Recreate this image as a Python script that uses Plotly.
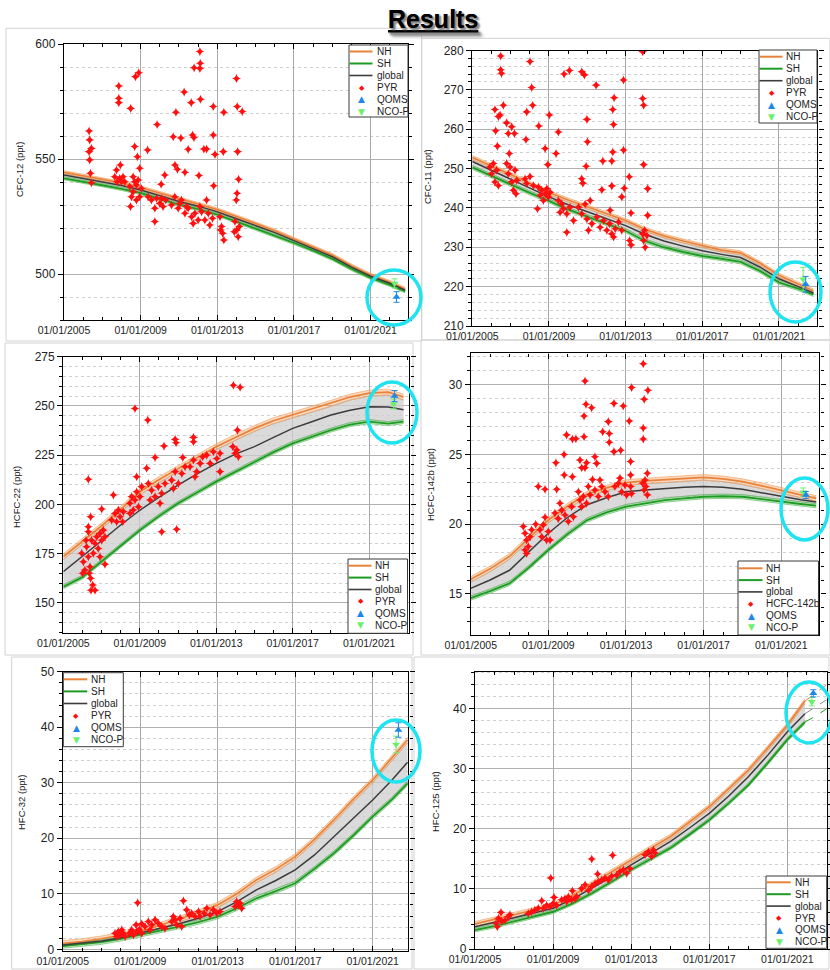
import plotly.graph_objects as go
import numpy as np

W, H = 830, 970
FONT = "Arial, 'Liberation Sans', sans-serif"


def X(px):
    return px / W


def Y(py):
    return 1 - py / H


# ---------------- data ----------------
YEARS = [2005, 2006, 2007, 2008, 2009, 2010, 2011, 2012, 2013, 2014, 2015,
         2016, 2017, 2018, 2019, 2020, 2021, 2022, 2022.8]
TICK_YEARS = [2005, 2009, 2013, 2017, 2021]
TICK_TEXT = ["01/01/2005", "01/01/2009", "01/01/2013", "01/01/2017", "01/01/2021"]

CFC12_NH = [544.2, 542.6, 541.2, 539.6, 537.6, 535.2, 532.6, 530.5, 528.0, 525.0,
            522.0, 518.8, 515.2, 511.6, 508.2, 503.6, 499.6, 496.5, 493.5]
CFC12_GL = [543.0, 541.5, 540.0, 538.5, 536.5, 534.0, 531.5, 529.5, 527.0, 524.0,
            521.0, 518.0, 514.5, 511.0, 507.5, 503.0, 499.0, 496.0, 493.0]
CFC12_SH = [541.6, 540.2, 538.6, 537.0, 535.2, 532.6, 530.2, 528.2, 525.8, 522.8,
            519.8, 516.8, 513.5, 510.2, 506.6, 502.2, 498.3, 495.3, 492.5]

CFC11_NH = [252.8, 250.7, 248.5, 246.2, 243.9, 242.0, 240.2, 238.5, 236.8, 234.6,
            232.9, 231.6, 230.4, 229.3, 228.6, 226.0, 222.9, 220.6, 218.9]
CFC11_GL = [251.8, 249.5, 247.3, 245.0, 242.8, 240.8, 239.0, 237.2, 235.5, 233.3,
            231.6, 230.3, 229.1, 228.2, 227.4, 225.0, 222.0, 220.0, 218.4]
CFC11_SH = [250.3, 248.1, 246.0, 243.8, 241.8, 239.6, 237.8, 236.0, 234.2, 231.6,
            230.0, 228.8, 227.8, 227.1, 226.3, 224.0, 221.1, 219.5, 218.0]

HCFC22_NH = [173.4, 181.0, 189.0, 197.5, 206.4, 212.5, 218.2, 224.0, 229.3, 234.0,
             238.6, 242.5, 245.4, 248.5, 251.3, 254.5, 256.5, 257.0, 254.5]
HCFC22_GL = [165.8, 173.5, 181.5, 189.5, 197.0, 203.5, 209.8, 215.5, 220.8, 225.5,
             229.3, 234.0, 238.6, 242.0, 245.4, 247.8, 249.6, 249.5, 248.0]
HCFC22_SH = [158.1, 163.0, 171.0, 179.0, 186.9, 194.0, 200.5, 206.0, 211.5, 216.5,
             221.6, 226.5, 231.0, 234.5, 237.7, 240.5, 242.0, 241.0, 242.0]

HCFC142B_NH = [16.05, 16.8, 17.7, 19.0, 20.3, 21.3, 22.17, 22.6, 22.98, 23.1,
               23.2, 23.25, 23.36, 23.25, 23.05, 22.75, 22.45, 22.1, 21.85]
HCFC142B_GL = [15.4, 16.0, 16.7, 18.0, 19.35, 20.5, 21.4, 21.9, 22.33, 22.45,
               22.57, 22.65, 22.7, 22.65, 22.5, 22.25, 21.97, 21.75, 21.6]
HCFC142B_SH = [14.7, 15.2, 15.76, 16.9, 18.15, 19.3, 20.3, 20.85, 21.26, 21.5,
               21.73, 21.85, 21.97, 22.0, 21.97, 21.8, 21.6, 21.45, 21.33]

HFC32_NH = [1.08, 1.4, 1.9, 2.5, 3.2, 4.3, 5.4, 6.6, 8.0, 10.0,
            12.5, 14.4, 16.7, 19.8, 23.3, 27.0, 30.5, 34.5, 37.7]
HFC32_GL = [0.78, 1.1, 1.5, 2.1, 2.9, 3.7, 4.6, 5.6, 6.8, 8.6,
            10.7, 12.4, 14.3, 17.0, 20.3, 23.5, 26.9, 30.5, 33.7]
HFC32_SH = [0.6, 0.9, 1.3, 1.9, 2.6, 3.3, 4.1, 4.9, 5.9, 7.4,
            9.2, 10.5, 11.9, 14.5, 17.3, 20.5, 23.9, 27.0, 29.9]

YEARS_125 = [2005, 2006, 2007, 2008, 2009, 2010, 2011, 2012, 2013, 2014, 2015,
             2016, 2017, 2018, 2019, 2020, 2021, 2021.9]
HFC125_NH = [4.17, 4.9, 5.7, 6.5, 7.3, 8.9, 10.9, 12.9, 14.9, 16.8, 18.7,
             21.2, 23.7, 26.7, 29.8, 33.5, 37.3, 41.3]
HFC125_GL = [3.72, 4.4, 5.2, 6.0, 6.8, 8.3, 10.1, 12.0, 14.0, 15.9, 17.9,
             20.2, 22.6, 25.5, 28.7, 32.3, 36.2, 39.2]
HFC125_SH = [3.17, 3.8, 4.6, 5.4, 6.2, 7.6, 9.3, 11.2, 13.2, 15.0, 16.8,
             19.1, 21.5, 24.3, 27.3, 31.0, 34.9, 37.8]
YEARS_125_EXT = [2021.9, 2022.5, 2023.0]
HFC125_NH_EXT = [41.3, 42.8, 44.0]
HFC125_GL_EXT = [39.2, 40.4, 41.5]
HFC125_SH_EXT = [37.8, 38.9, 40.0]

# PYR in-situ points (year, ppt)
CFC12_PYR = [
    (2006.31, 562.2), (2006.34, 558.3), (2006.43, 554.6), (2006.31, 553.2), (2006.34, 549.6),
    (2006.38, 543.8), (2006.43, 539.7), (2007.86, 581.7), (2007.86, 576.4), (2007.86, 574.5),
    (2008.48, 572.0), (2008.69, 555.4), (2008.73, 585.8), (2008.90, 587.5), (2008.83, 551.0),
    (2009.36, 553.9), (2009.86, 565.0), (2010.07, 539.0), (2010.26, 543.0), (2010.70, 559.7),
    (2010.84, 570.3), (2010.79, 547.4), (2010.92, 545.5), (2011.10, 559.1), (2011.31, 544.2),
    (2011.27, 579.1), (2011.48, 554.2), (2011.64, 574.5), (2011.71, 560.4), (2011.78, 559.3),
    (2011.79, 589.7), (2012.09, 596.7), (2012.11, 591.6), (2012.09, 589.4), (2012.12, 576.0),
    (2012.04, 542.8), (2012.30, 554.3), (2012.44, 554.3), (2012.79, 572.8), (2012.79, 560.4),
    (2012.88, 552.0), (2012.81, 538.4), (2013.34, 570.3), (2013.31, 553.2), (2014.00, 585.0),
    (2014.04, 572.8), (2014.06, 553.2), (2014.11, 541.2), (2014.30, 570.6), (2014.03, 535.1),
    (2013.99, 532.2),
    (2007.65, 542.3), (2007.77, 540.1), (2007.91, 541.6), (2008.00, 540.1), (2008.08, 542.3),
    (2008.17, 540.1), (2007.74, 545.2), (2007.94, 547.4),
    (2008.43, 538.0), (2008.52, 533.6), (2008.61, 535.8), (2008.69, 540.1), (2008.78, 538.7),
    (2008.87, 540.9), (2008.95, 533.6), (2009.04, 537.2), (2008.61, 542.3), (2008.47, 529.3),
    (2008.78, 532.2), (2008.95, 546.0),
    (2009.39, 533.6), (2009.56, 532.2), (2009.74, 528.6), (2009.83, 532.9), (2010.00, 530.7),
    (2010.17, 529.3), (2010.31, 532.2), (2009.74, 522.8), (2010.09, 532.9),
    (2010.61, 530.0), (2010.78, 533.6), (2010.96, 528.6), (2011.13, 532.2), (2011.31, 526.4),
    (2011.39, 529.3), (2011.05, 530.7),
    (2011.48, 528.6), (2011.66, 524.9), (2011.83, 526.4), (2012.00, 523.5), (2012.09, 529.3),
    (2011.74, 522.0),
    (2012.18, 527.1), (2012.35, 523.5), (2012.53, 526.4), (2012.61, 521.3), (2012.75, 524.2),
    (2012.44, 532.2),
    (2013.14, 524.9), (2013.22, 520.6), (2013.28, 517.7), (2013.34, 514.8), (2013.17, 519.1),
    (2013.92, 522.8), (2014.01, 519.1), (2014.09, 516.2), (2013.89, 518.4), (2014.15, 520.6),
]

CFC11_PYR = [
    (2006.48, 278.6), (2006.48, 275.1), (2006.52, 274.2), (2006.18, 265.0), (2006.62, 266.1),
    (2006.36, 263.2), (2006.45, 263.6), (2006.22, 259.6), (2006.79, 261.6), (2006.88, 258.9),
    (2007.06, 260.6), (2007.20, 258.9), (2006.31, 255.7), (2008.01, 277.2), (2008.10, 270.6),
    (2008.15, 266.1), (2007.84, 264.4), (2007.80, 257.4), (2008.47, 260.8), (2008.80, 255.1),
    (2009.02, 263.6), (2008.94, 251.0), (2009.49, 259.3), (2009.37, 253.8), (2009.79, 274.0),
    (2010.07, 274.9), (2010.71, 274.6), (2010.85, 273.8), (2010.98, 262.5), (2011.01, 256.8),
    (2010.94, 250.6), (2010.71, 247.4), (2010.77, 246.3), (2011.46, 271.2), (2011.81, 251.9),
    (2011.76, 244.6), (2012.33, 265.0), (2012.40, 268.0), (2012.37, 261.2), (2012.33, 254.2),
    (2012.28, 251.9), (2012.28, 245.6), (2012.89, 272.5), (2012.89, 254.7), (2012.93, 245.0),
    (2013.19, 247.9), (2013.89, 279.7), (2013.89, 267.8), (2013.94, 266.1), (2013.94, 251.0),
    (2014.15, 244.9), (2014.15, 238.1), (2012.80, 242.8), (2012.19, 239.4), (2013.28, 238.7),
    (2005.92, 250.4), (2006.01, 248.7), (2006.18, 246.6), (2006.27, 249.6), (2006.36, 245.7),
    (2006.10, 251.3),
    (2006.79, 251.3), (2006.88, 248.7), (2006.97, 250.4), (2007.06, 246.6), (2007.14, 244.5),
    (2007.23, 249.6), (2006.93, 253.8), (2007.28, 243.6), (2007.32, 247.0),
    (2007.75, 247.4), (2007.84, 246.2), (2008.01, 248.0), (2008.19, 245.7),
    (2008.45, 245.3), (2008.54, 243.2), (2008.62, 244.5), (2008.71, 241.9), (2008.80, 243.6),
    (2008.89, 244.9), (2008.40, 239.8), (2008.97, 242.8), (2009.06, 244.0),
    (2009.49, 241.9), (2009.67, 241.0), (2009.76, 239.8), (2009.93, 238.5), (2010.10, 240.2),
    (2009.93, 233.8), (2010.28, 236.8), (2009.58, 238.9),
    (2010.54, 240.2), (2010.71, 238.5), (2010.89, 241.0), (2010.98, 237.2), (2011.15, 241.9),
    (2011.24, 236.0), (2011.06, 234.3),
    (2011.50, 237.7), (2011.67, 235.1), (2011.85, 236.8), (2012.02, 234.3), (2012.16, 236.0),
    (2012.28, 233.4), (2012.46, 234.7), (2012.63, 236.4), (2012.80, 234.3), (2012.37, 232.6),
    (2013.21, 231.7), (2013.28, 230.6),
    (2013.89, 233.4), (2013.94, 231.7), (2014.02, 230.0), (2014.11, 233.0), (2013.99, 234.3),
]

HCFC22_PYR = [
    (2006.31, 212.7), (2006.31, 188.6), (2006.31, 186.1), (2006.43, 193.7), (2007.01, 197.6),
    (2006.36, 165.0), (2006.43, 162.4), (2006.45, 156.4), (2006.66, 156.4), (2006.54, 159.0),
    (2007.18, 169.6), (2008.75, 248.7), (2009.42, 242.8), (2010.15, 186.1), (2010.93, 187.3),
    (2010.27, 229.6), (2010.85, 233.0), (2010.90, 231.3), (2011.81, 234.0), (2011.81, 231.8),
    (2011.25, 223.8), (2009.80, 223.8), (2009.36, 218.3), (2013.90, 260.5), (2014.25, 259.5),
    (2014.11, 237.7),
    (2005.96, 175.1), (2006.05, 170.8), (2006.13, 166.6), (2006.22, 178.5), (2006.31, 173.4),
    (2006.40, 168.3), (2006.48, 181.8), (2006.01, 165.0), (2006.19, 181.8), (2006.57, 175.1),
    (2006.66, 180.1), (2006.75, 183.5), (2006.83, 177.6), (2006.92, 185.2), (2007.01, 181.8),
    (2007.09, 186.9), (2007.18, 183.5), (2006.92, 173.4),
    (2007.53, 192.0), (2007.71, 195.4), (2007.79, 191.2), (2007.88, 197.1), (2007.97, 193.7),
    (2008.14, 196.2), (2007.62, 204.7), (2008.11, 191.2),
    (2008.49, 200.5), (2008.58, 203.9), (2008.66, 197.1), (2008.75, 202.2), (2008.84, 206.4),
    (2008.93, 198.8), (2009.01, 203.9), (2008.84, 214.0), (2008.49, 195.4), (2009.10, 209.0),
    (2009.45, 210.6), (2009.62, 207.2), (2009.80, 203.9), (2009.97, 209.0), (2010.15, 205.6),
    (2010.32, 210.6), (2009.54, 202.2), (2010.06, 200.5),
    (2010.67, 212.3), (2010.85, 216.6), (2011.02, 210.6), (2011.20, 215.7), (2011.37, 219.1),
    (2010.76, 208.1),
    (2011.63, 219.1), (2011.81, 222.5), (2011.98, 216.6), (2012.16, 220.8), (2012.29, 224.2),
    (2011.89, 214.0),
    (2012.50, 225.0), (2012.68, 220.8), (2012.85, 226.7), (2013.03, 223.3), (2013.20, 225.9),
    (2013.20, 216.6),
    (2013.87, 229.3), (2013.99, 225.9), (2014.08, 227.6), (2014.16, 224.2),
]

HCFC142B_PYR = [
    (2010.89, 30.26), (2010.94, 28.6), (2011.23, 28.35), (2010.84, 27.75), (2010.84, 26.27),
    (2010.42, 26.13), (2009.94, 26.4), (2010.24, 26.1), (2009.81, 25.0), (2009.39, 24.4),
    (2009.82, 23.53), (2010.24, 23.4), (2010.63, 24.6), (2010.89, 24.05), (2010.72, 24.05),
    (2010.97, 24.4), (2011.40, 24.84), (2011.49, 24.36), (2011.28, 23.2), (2011.80, 26.63),
    (2012.09, 27.35), (2012.14, 26.5), (2012.14, 25.87), (2012.38, 28.66), (2012.38, 25.2),
    (2012.73, 25.3), (2012.86, 28.47), (2013.17, 27.4), (2013.29, 29.8), (2013.24, 24.5),
    (2013.24, 23.53), (2013.89, 31.5), (2013.89, 26.9), (2013.89, 26.1), (2013.94, 28.95),
    (2014.13, 29.6), (2014.10, 23.65), (2008.48, 22.7), (2008.83, 22.5), (2009.43, 22.5),
    (2008.35, 20.0),
    (2007.80, 19.35), (2007.88, 18.87), (2007.97, 18.4), (2007.80, 18.15), (2008.06, 19.1),
    (2008.14, 19.6), (2007.71, 19.83), (2007.88, 17.9),
    (2008.57, 19.6), (2008.66, 19.1), (2008.74, 19.95), (2008.91, 18.87), (2009.00, 19.47),
    (2008.83, 20.5), (2009.09, 18.87),
    (2009.34, 20.8), (2009.51, 20.4), (2009.69, 21.0), (2009.86, 20.66), (2010.03, 20.2),
    (2010.20, 21.26), (2010.29, 20.54), (2009.60, 21.5),
    (2010.55, 22.33), (2010.63, 21.74), (2010.80, 21.98), (2010.97, 21.5), (2011.06, 22.7),
    (2011.15, 22.1), (2010.72, 21.26),
    (2011.40, 22.45), (2011.58, 21.98), (2011.75, 22.7), (2011.92, 22.33), (2012.09, 21.98),
    (2011.66, 23.17),
    (2012.43, 22.7), (2012.61, 22.93), (2012.78, 22.33), (2012.95, 22.81), (2013.03, 22.1),
    (2012.69, 23.3),
    (2013.24, 22.7), (2013.29, 22.2),
    (2013.86, 22.93), (2013.93, 22.45), (2014.03, 22.7), (2014.10, 22.1), (2013.98, 23.17),
]

HFC32_PYR = [
    (2008.87, 8.4), (2011.23, 8.76), (2008.79, 4.4), (2009.08, 4.6),
    (2007.70, 2.88), (2007.79, 2.28), (2007.87, 3.2), (2007.96, 2.6), (2008.13, 2.9),
    (2008.22, 2.3), (2008.05, 3.5),
    (2008.44, 2.9), (2008.56, 3.5), (2008.65, 2.6), (2008.82, 3.2), (2008.96, 3.6), (2009.08, 2.9),
    (2009.25, 4.1), (2009.42, 5.0), (2009.60, 4.4), (2009.77, 5.3), (2009.94, 4.7),
    (2010.11, 4.1), (2010.28, 3.8), (2009.51, 3.5),
    (2010.63, 5.0), (2010.71, 5.9), (2010.89, 4.4), (2011.06, 5.6), (2011.14, 4.1), (2010.80, 5.3),
    (2011.40, 7.1), (2011.54, 6.2), (2011.66, 6.5), (2011.83, 5.9), (2012.01, 6.8), (2012.09, 5.9),
    (2012.30, 6.5), (2012.44, 7.4), (2012.61, 6.2), (2012.78, 7.1), (2012.95, 6.5), (2013.12, 6.8),
    (2013.90, 7.7), (2013.98, 8.6), (2014.07, 8.0), (2014.16, 8.3), (2014.24, 7.4),
]

HFC125_PYR = [
    (2008.88, 11.83), (2010.98, 15.0), (2012.05, 15.6), (2011.28, 12.5), (2008.42, 8.05),
    (2006.33, 6.1), (2009.05, 8.6), (2009.99, 9.7),
    (2006.08, 4.3), (2006.20, 5.1), (2006.37, 4.6), (2006.54, 4.8), (2006.71, 5.4),
    (2006.14, 3.7), (2006.79, 5.7),
    (2007.73, 5.9), (2007.90, 6.2), (2008.07, 6.5), (2008.24, 6.8),
    (2008.50, 6.8), (2008.67, 7.3), (2008.84, 7.05), (2009.01, 7.6), (2009.18, 7.3),
    (2009.44, 8.2), (2009.61, 8.4), (2009.78, 8.7), (2009.95, 8.2), (2010.12, 8.4),
    (2010.21, 8.7), (2009.70, 7.9),
    (2010.46, 10.1), (2010.64, 10.7), (2010.81, 9.8), (2010.98, 10.4), (2011.15, 10.9),
    (2011.32, 11.2), (2011.49, 11.5), (2011.66, 11.8), (2011.83, 11.5), (2012.00, 12.1),
    (2012.26, 12.3), (2012.43, 12.9), (2012.60, 13.2), (2012.77, 12.6), (2012.94, 13.4),
    (2013.71, 15.7), (2013.88, 16.2), (2014.05, 15.4), (2014.22, 16.0), (2014.14, 16.5),
]

# FTIR results (year, value, error)
QOMS = [(2022.35, 490.0, 2.3), (2022.39, 220.6, 2.0), (2022.33, 255.0, 2.8),
        (2022.27, 22.1, 0.25), (2022.33, 39.5, 1.3), (2022.33, 42.6, 0.6)]
NCOP = [(2022.25, 495.9, 2.0), (2022.26, 221.9, 3.0), (2022.28, 251.0, 2.5),
        (2022.13, 22.3, 0.3), (2022.21, 36.9, 1.5), (2022.25, 41.2, 0.7)]

# band half-widths (ppt) for NH / SH
NH_UNC = [0.7, 0.5, 1.5, 0.2, 0.5, 0.4]
SH_UNC = [0.7, 0.5, 1.0, 0.15, 0.4, 0.3]

# ---------------- layout of panels (pixels) ----------------
PANELS = [
    dict(ylabel="CFC-12 (ppt)", pyr_name="PYR", years=YEARS, nh=CFC12_NH, gl=CFC12_GL, sh=CFC12_SH,
         pyr=CFC12_PYR, box=(64, 408, 44, 320), xr=[2005, 2022.95], yr=[480, 600], dt=50, mdt=10,
         ytit=(19, 170), leg=(349, 45, 408, 117, 51.5, 12.0, 372.5, 375),
         circ=(367, 270, 421, 325), frame=(6, 28.3, 421.7, 341)),
    dict(ylabel="CFC-11 (ppt)", pyr_name="PYR", years=YEARS, nh=CFC11_NH, gl=CFC11_GL, sh=CFC11_SH,
         pyr=CFC11_PYR, box=(472.3, 817.3, 50.5, 326), xr=[2005, 2023.0], yr=[210, 280], dt=10, mdt=2,
         ytit=(427, 177), leg=(759, 50, 817, 123, 56.7, 12.0, 782.5, 784),
         circ=(770, 262, 821, 322), frame=(421.7, 38.3, 830, 340)),
    dict(ylabel="HCFC-22 (ppt)", pyr_name="PYR", years=YEARS, nh=HCFC22_NH, gl=HCFC22_GL, sh=HCFC22_SH,
         pyr=HCFC22_PYR, box=(63.3, 409.3, 356.7, 633.3), xr=[2005, 2023.1], yr=[134.5, 275], dt=25, mdt=5,
         ytit=(17, 497), leg=(348, 559, 407.5, 633.3, 565.7, 11.9, 371.5, 372.7),
         circ=(367, 382, 417, 443), frame=(5, 343, 413, 655)),
    dict(ylabel="HCFC-142b (ppt)", pyr_name="HCFC-142b", years=YEARS, nh=HCFC142B_NH, gl=HCFC142B_GL,
         sh=HCFC142B_SH, pyr=HCFC142B_PYR, box=(470.7, 819.3, 353.3, 635), xr=[2005, 2022.96],
         yr=[12.06, 32.25], dt=5, mdt=1,
         ytit=(430, 485), leg=(738, 561, 818.5, 635, 568.3, 11.8, 762.5, 764),
         circ=(781, 478, 828, 540), frame=(421, 340, 830, 655)),
    dict(ylabel="HFC-32 (ppt)", pyr_name="PYR", years=YEARS, nh=HFC32_NH, gl=HFC32_GL, sh=HFC32_SH,
         pyr=HFC32_PYR, box=(62.7, 408.3, 671.7, 951), xr=[2005, 2022.84], yr=[-0.3, 50], dt=10, mdt=2,
         ytit=(21, 803), leg=(63.3, 672.7, 123.3, 746.7, 679.3, 12.1, 87.3, 89.3),
         circ=(372, 720, 420, 782), frame=(11.7, 657, 412, 969)),
    dict(ylabel="HFC-125 (ppt)", pyr_name="PYR", years=YEARS_125, nh=HFC125_NH, gl=HFC125_GL, sh=HFC125_SH,
         pyr=HFC125_PYR, box=(475, 827, 671.7, 949), xr=[2005, 2023.03], yr=[0, 46.2], dt=10, mdt=2,
         ytit=(435, 802), leg=(766, 876, 826.7, 948.3, 882.3, 11.9, 790.7, 792.7),
         circ=(786, 682, 832, 743), frame=(414, 657, 829, 969)),
]

ORANGE = "#E8823A"
GREEN = "#1E9B22"
GRAY = "#3c3c3c"
RED = "#FF1010"
BLUE = "#1E88E8"
LGREEN = "#6CF06C"
CYAN = "#1FE3EE"

fig = go.Figure()
shapes = []
annotations = []
layout_axes = {}

for i, p in enumerate(PANELS, start=1):
    xa = "x" if i == 1 else f"x{i}"
    ya = "y" if i == 1 else f"y{i}"
    xkey = "xaxis" if i == 1 else f"xaxis{i}"
    ykey = "yaxis" if i == 1 else f"yaxis{i}"
    l, r, t, b = p["box"]

    layout_axes[xkey] = dict(
        domain=[X(l), X(r)], anchor=ya, range=p["xr"], tickmode="array", automargin=False,
        tickvals=TICK_YEARS, ticktext=TICK_TEXT, ticks="inside", ticklen=5, tickwidth=1.2,
        tickcolor="black", showline=True, linecolor="black", linewidth=1.4, mirror="allticks",
        showgrid=True, gridcolor="#a8a8a8", gridwidth=1, zeroline=False,
        tickfont=dict(family=FONT, size=10.5, color="#222"),
        minor=dict(tickmode="linear", tick0=2005, dtick=1, ticks="inside", ticklen=3,
                   tickcolor="black", showgrid=False),
    )
    layout_axes[ykey] = dict(
        domain=[Y(b), Y(t)], anchor=xa, range=p["yr"], tick0=0, dtick=p["dt"], automargin=False,
        ticks="outside", ticklen=5, tickwidth=1.2, tickcolor="black", showline=True,
        linecolor="black", linewidth=1.4, mirror="allticks", showgrid=True,
        gridcolor="#b0b0b0", gridwidth=1, zeroline=False,
        tickfont=dict(family=FONT, size=12, color="#222"),
        minor=dict(tick0=0, dtick=p["mdt"], ticks="outside", ticklen=3, tickcolor="black",
                   showgrid=True, gridcolor="#cfcfcf", griddash="dot", gridwidth=1),
    )

    yrs = p["years"]
    nh = np.array(p["nh"])
    sh = np.array(p["sh"])
    gl = np.array(p["gl"])
    un, us = NH_UNC[i - 1], SH_UNC[i - 1]
    common = dict(xaxis=xa, yaxis=ya, showlegend=False, hoverinfo="skip", mode="lines")

    # gray spread between hemispheres
    fig.add_trace(go.Scatter(x=yrs, y=sh + us, line=dict(width=0.7, color="#9a9a9a"), **common))
    fig.add_trace(go.Scatter(x=yrs, y=nh - un, fill="tonexty", fillcolor="rgba(205,205,205,0.75)",
                             line=dict(width=0.7, color="#9a9a9a"), **common))
    # NH band
    fig.add_trace(go.Scatter(x=yrs, y=nh + un, line=dict(width=0.7, color="#F2A66A"), **common))
    fig.add_trace(go.Scatter(x=yrs, y=nh - un, fill="tonexty", fillcolor="rgba(245,170,110,0.45)",
                             line=dict(width=0.7, color="#F2A66A"), **common))
    # SH band
    fig.add_trace(go.Scatter(x=yrs, y=sh + us, line=dict(width=0.7, color="#6CC06C"), **common))
    fig.add_trace(go.Scatter(x=yrs, y=sh - us, fill="tonexty", fillcolor="rgba(120,200,120,0.45)",
                             line=dict(width=0.7, color="#6CC06C"), **common))
    # main lines
    fig.add_trace(go.Scatter(x=yrs, y=nh, line=dict(width=1.7, color=ORANGE), **common))
    fig.add_trace(go.Scatter(x=yrs, y=sh, line=dict(width=1.9, color=GREEN), **common))
    fig.add_trace(go.Scatter(x=yrs, y=gl, line=dict(width=1.5, color=GRAY), **common))

    if i == 6:
        fig.add_trace(go.Scatter(x=YEARS_125_EXT, y=HFC125_NH_EXT,
                                 line=dict(width=1, color=ORANGE, dash="dash"), **common))
        fig.add_trace(go.Scatter(x=YEARS_125_EXT, y=HFC125_GL_EXT,
                                 line=dict(width=1, color="#888", dash="dash"), **common))
        fig.add_trace(go.Scatter(x=YEARS_125_EXT, y=HFC125_SH_EXT,
                                 line=dict(width=1, color=GREEN, dash="dash"), **common))

    # PYR points
    px_, py_ = zip(*p["pyr"])
    fig.add_trace(go.Scatter(x=list(px_), y=list(py_), mode="markers", xaxis=xa, yaxis=ya,
                             showlegend=False, hoverinfo="skip",
                             marker=dict(symbol="star-diamond", size=6.5, color=RED,
                                         line=dict(width=0))))
    # FTIR
    qx, qy, qe = QOMS[i - 1]
    nx, ny, ne = NCOP[i - 1]
    fig.add_trace(go.Scatter(x=[nx], y=[ny], mode="markers", xaxis=xa, yaxis=ya, showlegend=False,
                             error_y=dict(type="data", array=[ne], color=LGREEN, thickness=1, width=3),
                             marker=dict(symbol="triangle-down", size=7, color=LGREEN)))
    fig.add_trace(go.Scatter(x=[qx], y=[qy], mode="markers", xaxis=xa, yaxis=ya, showlegend=False,
                             error_y=dict(type="data", array=[qe], color=BLUE, thickness=1, width=3),
                             marker=dict(symbol="triangle-up", size=7, color=BLUE)))

    # panel frame
    fx0, fy0, fx1, fy1 = p["frame"]
    shapes.append(dict(type="rect", xref="paper", yref="paper", x0=X(fx0), x1=X(fx1),
                       y0=Y(fy1), y1=Y(fy0), line=dict(color="#d2d2d2", width=1), layer="below"))

    # y-axis title
    tx, ty = p["ytit"]
    annotations.append(dict(text=p["ylabel"], x=X(tx), y=Y(ty), xref="paper", yref="paper",
                            showarrow=False, textangle=-90, xanchor="center", yanchor="middle",
                            font=dict(family=FONT, size=9.5, color="#222")))

    # legend box
    lx0, ly0, lx1, ly1, row0, dy, lend, textx = p["leg"]
    shapes.append(dict(type="rect", xref="paper", yref="paper", x0=X(lx0), x1=X(lx1),
                       y0=Y(ly1), y1=Y(ly0), line=dict(color="#3a3a3a", width=1),
                       fillcolor="white", layer="above"))
    names = ["NH", "SH", "global", p["pyr_name"], "QOMS", "NCO-P"]
    for k, nm in enumerate(names):
        ry = row0 + k * dy
        if k < 3:
            col = [ORANGE, GREEN, GRAY][k]
            wid = [2, 2, 1.6][k]
            shapes.append(dict(type="line", xref="paper", yref="paper", x0=X(lx0 + 0.5), x1=X(lend),
                               y0=Y(ry), y1=Y(ry), line=dict(color=col, width=wid), layer="above"))
        else:
            glyph, col, sz = [("◆", RED, 7), ("▲", BLUE, 9), ("▼", LGREEN, 9)][k - 3]
            annotations.append(dict(text=glyph, x=X((lx0 + lend) / 2 + 1), y=Y(ry), xref="paper",
                                    yref="paper", showarrow=False, xanchor="center",
                                    yanchor="middle", font=dict(family="DejaVu Sans", size=sz,
                                                                color=col)))
        annotations.append(dict(text=nm, x=X(textx), y=Y(ry), xref="paper", yref="paper",
                                showarrow=False, xanchor="left", yanchor="middle",
                                font=dict(family=FONT, size=10, color="#222")))

    # cyan highlight
    cx0, cy0, cx1, cy1 = p["circ"]
    shapes.append(dict(type="circle", xref="paper", yref="paper", x0=X(cx0), x1=X(cx1),
                       y0=Y(cy1), y1=Y(cy0), line=dict(color=CYAN, width=3.5), layer="above"))

annotations.append(dict(text="Results", x=X(433), y=Y(19), xref="paper", yref="paper",
                        showarrow=False, xanchor="center", yanchor="middle",
                        font=dict(family=FONT, size=25, color="black", weight="bold",
                                  lineposition="under", shadow="2px 2px 2px #8a8a8a")))

fig.update_layout(
    width=W, height=H, margin=dict(l=0, r=0, t=0, b=0, pad=0), autosize=False,
    paper_bgcolor="white", plot_bgcolor="white", showlegend=False,
    shapes=shapes, annotations=annotations, **layout_axes,
)

fig.write_html(
    "out.html",
    config={"responsive": False, "displayModeBar": False},
    post_script="document.body.style.margin='0';document.body.style.overflow='hidden';",
)
